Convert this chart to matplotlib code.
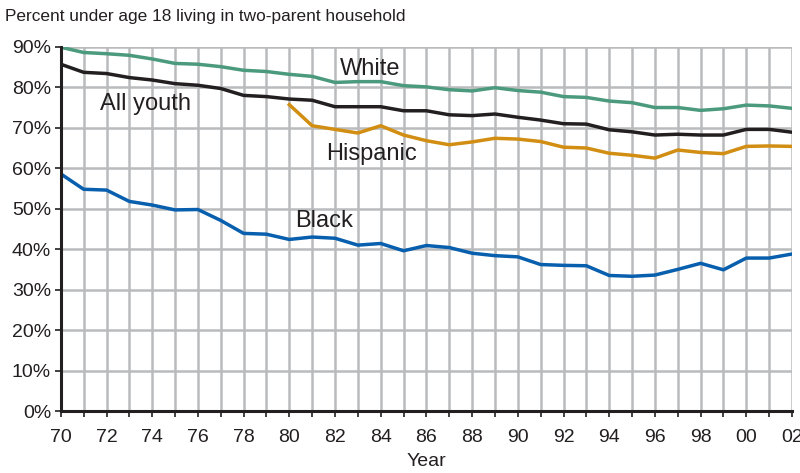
import numpy as np
import matplotlib
matplotlib.use("Agg")
import matplotlib.pyplot as plt

plt.rcParams["font.family"] = ["Liberation Sans", "DejaVu Sans"]

years = list(range(1970, 2003))
white = [89.9, 88.6, 88.3, 87.9, 87.0, 85.9, 85.7, 85.1, 84.2, 83.9,
         83.2, 82.7, 81.2, 81.4, 81.4, 80.4, 80.1, 79.4, 79.1, 79.9,
         79.2, 78.8, 77.7, 77.5, 76.6, 76.2, 75.0, 75.0, 74.3, 74.7,
         75.6, 75.4, 74.8]
all_youth = [85.7, 83.7, 83.4, 82.4, 81.8, 80.9, 80.5, 79.7, 78.0, 77.7,
             77.1, 76.8, 75.2, 75.2, 75.2, 74.2, 74.2, 73.2, 73.0, 73.4,
             72.6, 71.9, 71.0, 70.9, 69.5, 69.0, 68.2, 68.4, 68.2, 68.2,
             69.6, 69.6, 68.9]
hisp_years = list(range(1980, 2003))
hispanic = [75.7, 70.5, 69.6, 68.7, 70.5, 68.2, 66.8, 65.8, 66.5, 67.4,
            67.2, 66.6, 65.2, 65.0, 63.7, 63.2, 62.5, 64.5, 63.9, 63.6,
            65.4, 65.5, 65.4]
black = [58.6, 54.8, 54.6, 51.8, 50.9, 49.7, 49.8, 47.1, 43.9, 43.7,
         42.4, 43.0, 42.7, 41.0, 41.4, 39.6, 40.9, 40.4, 39.0, 38.4,
         38.1, 36.2, 36.0, 35.9, 33.5, 33.3, 33.6, 35.0, 36.5, 34.9,
         37.8, 37.8, 38.8]

tick_years = list(range(1970, 2003, 2))
tick_labels = ["%02d" % (y % 100) for y in tick_years]

fig = plt.figure(figsize=(8, 4.73), dpi=100)
ax = fig.add_axes([0.076, 0.131, 0.914, 0.770])

ax.plot(years, white, color="#4b9a7d", lw=2.5, zorder=3)
ax.plot(years, all_youth, color="#231f20", lw=2.5, zorder=3)
ax.plot(hisp_years, hispanic, color="#d18e12", lw=2.5, zorder=3)
ax.plot(years, black, color="#075fae", lw=2.5, zorder=3)

ax.set_xlim(1970, 2002)
ax.set_ylim(0, 90)
ax.set_xticks(years, minor=True)
ax.set_xticks(tick_years)
ax.set_xticklabels(tick_labels)
ax.set_yticks(range(0, 91, 10))
ax.set_yticklabels(["%d%%" % v for v in range(0, 91, 10)])
ax.tick_params(labelsize=14, length=4, width=1.2, colors="#231f20", pad=3)
ax.tick_params(axis="x", pad=9)
ax.tick_params(which="minor", length=4, width=1.2, color="#231f20")
ax.grid(True, which="both", axis="x", color="#b9bbbd", lw=1.8, zorder=0)
ax.grid(True, which="major", axis="y", color="#b9bbbd", lw=1.8, zorder=0)
ax.set_axisbelow(True)

for s in ["top", "right"]:
    ax.spines[s].set_visible(False)
for s in ["left", "bottom"]:
    ax.spines[s].set_linewidth(2.2)
    ax.spines[s].set_color("#231f20")
    ax.spines[s].set_zorder(4)

ax.set_xlabel("Year", fontsize=14, color="#231f20", labelpad=5)

ax.text(1983.55, 84.4, "White", fontsize=17, color="#231f20", ha="center", va="center")
ax.text(1971.7, 75.8, "All youth", fontsize=17, color="#231f20", ha="left", va="center")
ax.text(1983.6, 63.4, "Hispanic", fontsize=17, color="#231f20", ha="center", va="center")
ax.text(1981.5, 46.9, "Black", fontsize=17, color="#231f20", ha="center", va="center")

fig.text(0.006, 0.966, "Percent under age 18 living in two-parent household",
         fontsize=12.4, color="#231f20", ha="left", va="center")

fig.savefig("out.png", dpi=100)
